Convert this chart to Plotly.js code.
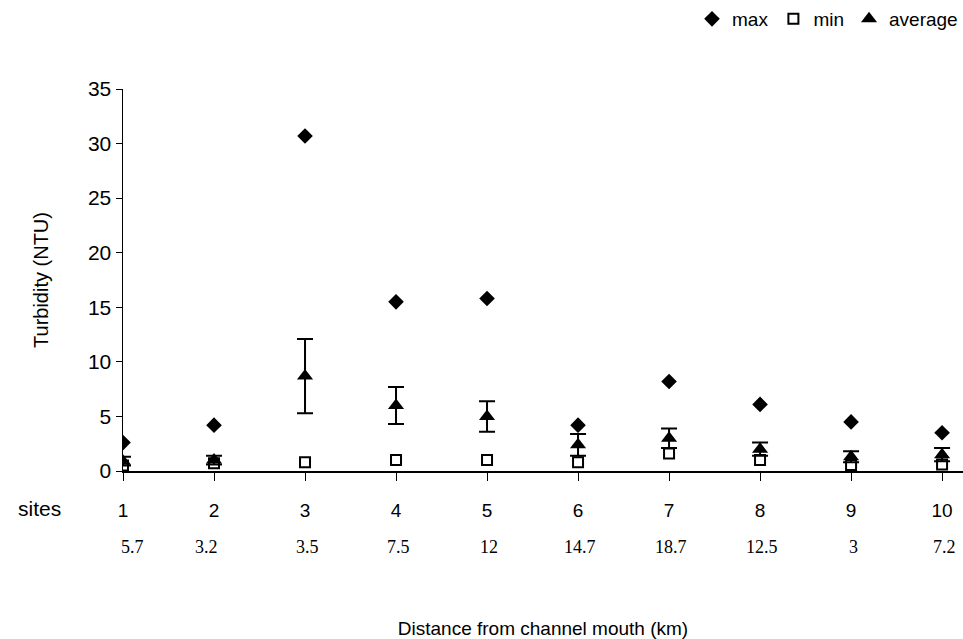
<!DOCTYPE html>
<html>
<head>
<meta charset="utf-8">
<script src="https://cdn.plot.ly/plotly-3.0.1.min.js"></script>
<style>html,body{margin:0;padding:0;background:#fff;}#chart{width:963px;height:639px;}</style>
</head>
<body>
<div id="chart"></div>
<script>
const sites = [1, 2, 3, 4, 5, 6, 7, 8, 9, 10];
const distances = ["5.7", "3.2", "3.5", "7.5", "12", "14.7", "18.7", "12.5", "3", "7.2"];
const maxVals = [2.6, 4.2, 30.7, 15.5, 15.8, 4.2, 8.2, 6.1, 4.5, 3.5];
const minVals = [0.5, 0.7, 0.8, 1.0, 1.0, 0.8, 1.6, 1.0, 0.55, 0.6];
const avgVals = [0.9, 1.0, 8.7, 6.0, 5.0, 2.4, 3.0, 2.0, 1.3, 1.5];
const avgErr = [0.4, 0.4, 3.4, 1.7, 1.4, 1.0, 0.9, 0.6, 0.5, 0.6];
const yTicks = [0, 5, 10, 15, 20, 25, 30, 35];

const traces = [
  {x: sites, y: maxVals, name: 'max', type: 'scatter', mode: 'markers',
   marker: {symbol: 'diamond', size: 12, color: '#000'}},
  {x: sites, y: minVals, name: 'min', type: 'scatter', mode: 'markers',
   marker: {symbol: 'square-open', size: 10, color: '#000', line: {width: 2, color: '#000'}}},
  {x: sites, y: avgVals, name: 'average', type: 'scatter', mode: 'markers',
   marker: {symbol: 'triangle-up', size: 14, color: '#000'},
   error_y: {type: 'data', array: avgErr, visible: true, color: '#000', thickness: 2, width: 8}}
];

const annotations = sites.map((s, i) => ({
  x: s, y: 0, xref: 'x', yref: 'paper', yshift: -88, xshift: i === 0 ? 9 : (i === 1 ? -8 : 2),
  text: distances[i], showarrow: false,
  font: {family: 'Liberation Serif, Times New Roman, serif', size: 18, color: '#000'}
}));
annotations.push({
  x: 0, y: 0, xref: 'paper', yref: 'paper', xshift: -107, yshift: -51,
  text: 'sites', showarrow: false,
  font: {family: 'Liberation Sans, Arial, sans-serif', size: 21, color: '#000'}
});

const layout = {
  width: 963, height: 639,
  margin: {l: 123, r: 0, t: 89, b: 168, autoexpand: false},
  paper_bgcolor: '#fff', plot_bgcolor: '#fff',
  font: {family: 'Liberation Sans, Arial, sans-serif', color: '#000', size: 18},
  showlegend: true,
  legend: {orientation: 'h', x: 1, xanchor: 'right', y: 1, yanchor: 'top',
           xref: 'container', yref: 'container',
           font: {size: 19}, itemwidth: 30, traceorder: 'normal', tracegroupgap: 0},
  xaxis: {
    range: [1, 10.23], tickmode: 'array', tickvals: sites, ticktext: sites.map(String),
    showline: true, linecolor: '#000', linewidth: 1.5, ticks: 'outside', ticklen: 8,
    tickcolor: '#000', showgrid: false, zeroline: false,
    tickfont: {size: 19}, ticklabelstandoff: 14, automargin: false,
    title: {text: 'Distance from channel mouth (km)', font: {size: 19}, standoff: 105}
  },
  yaxis: {
    range: [0, 35], tickmode: 'array', tickvals: yTicks,
    showline: true, linecolor: '#000', linewidth: 1.5, ticks: 'outside', ticklen: 6,
    tickcolor: '#000', showgrid: false, zeroline: false,
    tickfont: {size: 21}, automargin: false,
    title: {text: 'Turbidity (NTU)', font: {size: 20}, standoff: 34}
  },
  annotations: annotations
};

Plotly.newPlot('chart', traces, layout, {displayModeBar: false, staticPlot: true});
</script>
</body>
</html>
